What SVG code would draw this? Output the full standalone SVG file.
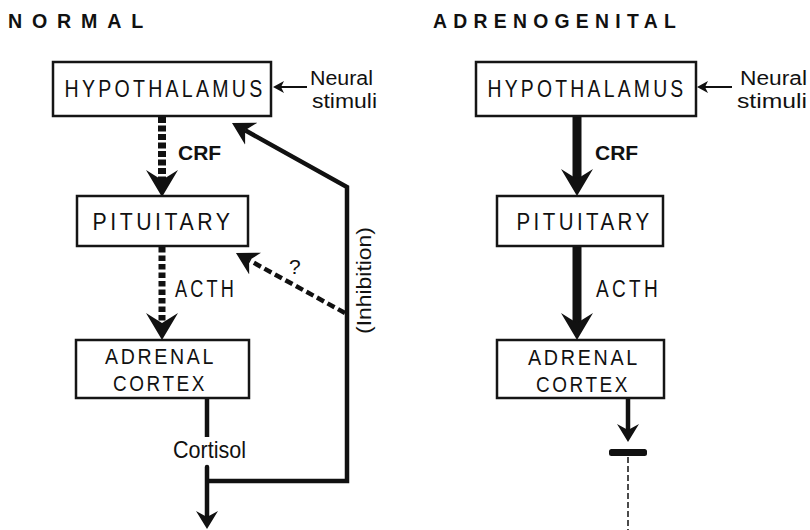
<svg xmlns="http://www.w3.org/2000/svg" width="810" height="530" viewBox="0 0 810 530">
<style>
text{font-family:"Liberation Sans",Arial,sans-serif;fill:#111}
.title{font-size:20px;font-weight:bold}
.box{fill:#fff;stroke:#151515;stroke-width:2.5}
.bt{font-size:24px;letter-spacing:4px;text-anchor:middle}
.bs{font-size:22px;letter-spacing:3px;text-anchor:middle}
.lbl{font-size:20px}
.acth{font-size:23px;letter-spacing:4px}
.cort{font-size:24px}
.q{font-size:21px}
.inh{font-size:20px;text-anchor:middle}
.bold{font-size:21px;font-weight:bold}
.solid{fill:none;stroke:#111;stroke-width:4.5;stroke-linejoin:miter}
.thick{fill:none;stroke:#111;stroke-width:9}
.dash{fill:none;stroke:#111;stroke-width:8;stroke-dasharray:6 2.5}
.dots{fill:none;stroke:#111;stroke-width:7;stroke-dasharray:5.5 3}
.thin{fill:none;stroke:#111;stroke-width:2}
</style>
<defs>
<marker id="headL" viewBox="0 -17 28 34" refX="10" refY="0" markerWidth="28" markerHeight="34" markerUnits="userSpaceOnUse" orient="auto"><path d="M0,-16 L27,0 L0,16 L10,0 Z" fill="#111"/></marker>
<marker id="headM" viewBox="0 -13 23 26" refX="7" refY="0" markerWidth="23" markerHeight="26" markerUnits="userSpaceOnUse" orient="auto"><path d="M0,-12.5 L22,0 L0,12.5 L7,0 Z" fill="#111"/></marker>
<marker id="headS" viewBox="0 -12 19 24" refX="6" refY="0" markerWidth="19" markerHeight="24" markerUnits="userSpaceOnUse" orient="auto"><path d="M0,-11 L18,0 L0,11 L6,0 Z" fill="#111"/></marker>
<marker id="headN" viewBox="0 -7 12 14" refX="3" refY="0" markerWidth="12" markerHeight="14" markerUnits="userSpaceOnUse" orient="auto"><path d="M0,-6 L11,0 L0,6 L3,0 Z" fill="#111"/></marker>
</defs>
<rect width="810" height="530" fill="#fff"/>
<text class="title" x="8" y="28" letter-spacing="10" textLength="145" lengthAdjust="spacingAndGlyphs">NORMAL</text>
<text class="title" x="433" y="28" letter-spacing="6.5" textLength="249" lengthAdjust="spacingAndGlyphs">ADRENOGENITAL</text>

<g id="connectors">
<line class="thin" x1="307" y1="87" x2="281" y2="87" marker-end="url(#headN)"/>
<line class="thin" x1="732" y1="87" x2="705" y2="87" marker-end="url(#headN)"/>
<line class="dash" x1="162" y1="117" x2="162" y2="180" marker-end="url(#headL)"/>
<line class="dots" x1="162" y1="247" x2="162" y2="323" marker-end="url(#headL)"/>
<line class="solid" x1="207" y1="398" x2="207" y2="437"/>
<line class="solid" x1="207" y1="467" x2="207" y2="517" stroke-linecap="round" marker-end="url(#headS)"/>
<polyline class="solid" points="207,481 347,481 347,187 245.1,130.3" marker-end="url(#headM)"/>
<line class="solid" x1="345" y1="313" x2="249.1" y2="260.2" stroke-width="4" stroke-dasharray="8 4" marker-end="url(#headM)"/>
<line class="thick" x1="577" y1="116" x2="577" y2="179" marker-end="url(#headL)"/>
<line class="thick" x1="577" y1="246" x2="577" y2="323" marker-end="url(#headL)"/>
<line class="solid" x1="628" y1="398" x2="628" y2="430" stroke-width="5.5" marker-end="url(#headS)"/>
<rect x="609" y="449" width="38" height="7" rx="2.5" fill="#111"/>
<line x1="628" y1="457" x2="628" y2="530" stroke="#111" stroke-width="1.5" stroke-dasharray="6 3"/>
</g>

<g id="labels">
<text class="lbl" x="310" y="85" textLength="63" lengthAdjust="spacingAndGlyphs">Neural</text>
<text class="lbl" x="312" y="108" textLength="65" lengthAdjust="spacingAndGlyphs">stimuli</text>
<text class="lbl" x="740" y="85" textLength="67" lengthAdjust="spacingAndGlyphs">Neural</text>
<text class="lbl" x="737" y="108" textLength="70" lengthAdjust="spacingAndGlyphs">stimuli</text>
<text class="bold" x="178" y="160">CRF</text>
<text class="bold" x="595" y="160">CRF</text>
<text class="acth" x="175" y="297" textLength="62" lengthAdjust="spacingAndGlyphs">ACTH</text>
<text class="acth" x="596" y="297" textLength="65" lengthAdjust="spacingAndGlyphs">ACTH</text>
<text class="cort" x="173" y="458" textLength="73" lengthAdjust="spacingAndGlyphs">Cortisol</text>
<text class="q" x="289" y="274">?</text>
<text class="inh" transform="translate(371,280.5) rotate(-90)" textLength="107" lengthAdjust="spacingAndGlyphs">(Inhibition)</text>
</g>

<g id="n-hypothalamus-normal">
<rect class="box" x="53" y="62" width="218" height="54"/>
<text class="bt" x="165" y="97" textLength="201" lengthAdjust="spacingAndGlyphs">HYPOTHALAMUS</text>
</g>
<g id="n-pituitary-normal">
<rect class="box" x="77" y="196" width="171" height="50"/>
<text class="bt" x="163" y="230" textLength="141" lengthAdjust="spacingAndGlyphs">PITUITARY</text>
</g>
<g id="n-adrenal-normal">
<rect class="box" x="76" y="340" width="173" height="58"/>
<text class="bs" x="160.5" y="364" textLength="111" lengthAdjust="spacingAndGlyphs">ADRENAL</text>
<text class="bs" x="160" y="391" textLength="94" lengthAdjust="spacingAndGlyphs">CORTEX</text>
</g>
<g id="n-hypothalamus-adrenogenital">
<rect class="box" x="476" y="62" width="220" height="54"/>
<text class="bt" x="587" y="97" textLength="199" lengthAdjust="spacingAndGlyphs">HYPOTHALAMUS</text>
</g>
<g id="n-pituitary-adrenogenital">
<rect class="box" x="497" y="196" width="166" height="50"/>
<text class="bt" x="584.5" y="230" textLength="136" lengthAdjust="spacingAndGlyphs">PITUITARY</text>
</g>
<g id="n-adrenal-adrenogenital">
<rect class="box" x="497" y="340" width="167" height="58"/>
<text class="bs" x="584" y="365" textLength="112" lengthAdjust="spacingAndGlyphs">ADRENAL</text>
<text class="bs" x="583" y="392" textLength="94" lengthAdjust="spacingAndGlyphs">CORTEX</text>
</g>
</svg>
